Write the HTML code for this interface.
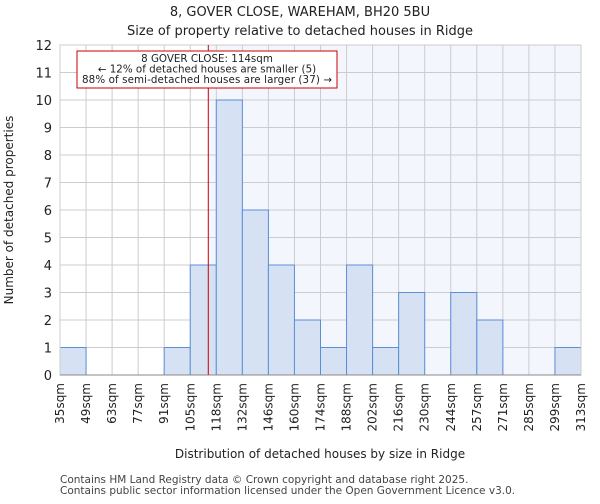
<!DOCTYPE html>
<html><head><meta charset="utf-8"><style>
body{margin:0;background:#fff;width:600px;height:500px;overflow:hidden;font-family:"DejaVu Sans","Liberation Sans",sans-serif}
text{font-family:"DejaVu Sans","Liberation Sans",sans-serif;fill:#222}
</style></head><body>
<svg id="chart" width="600" height="500" xmlns="http://www.w3.org/2000/svg">
<text x="300" y="16" text-anchor="middle" font-size="13">8, GOVER CLOSE, WAREHAM, BH20 5BU</text>
<text x="300" y="35" text-anchor="middle" font-size="13">Size of property relative to detached houses in Ridge</text>
<g id="grid"></g>
<g id="bars"></g>
<g id="axes"></g>
<text x="320" y="458" text-anchor="middle" font-size="12">Distribution of detached houses by size in Ridge</text>
<text transform="translate(13,210) rotate(-90)" text-anchor="middle" font-size="12">Number of detached properties</text>
<text x="60" y="483" font-size="10.5" style="fill:#444">Contains HM Land Registry data © Crown copyright and database right 2025.</text>
<text x="60" y="494" font-size="10.5" style="fill:#444">Contains public sector information licensed under the Open Government Licence v3.0.</text>
</svg>
<script>
const categories=["35sqm","49sqm","63sqm","77sqm","91sqm","105sqm","118sqm","132sqm","146sqm","160sqm","174sqm","188sqm","202sqm","216sqm","230sqm","244sqm","257sqm","271sqm","285sqm","299sqm","313sqm"];
const binEdges=[35,49,63,77,91,105,118,132,146,160,174,188,202,216,230,244,257,271,285,299,313];
const counts=[1,0,0,0,1,4,10,6,4,2,1,4,1,3,0,3,2,0,0,1];
const yTicks=[0,1,2,3,4,5,6,7,8,9,10,11,12];
const propertySize=114;
const NS="http://www.w3.org/2000/svg";
const L=60,R=581,T=45,B=375,yMax=12;
const bw=(R-L)/counts.length;
function xIdx(i){return L+i*bw;}
function xVal(v){let i=0;while(i<binEdges.length-2&&v>binEdges[i+1])i++;return xIdx(i)+bw*(v-binEdges[i])/(binEdges[i+1]-binEdges[i]);}
function y(v){return B-(B-T)*v/yMax;}
function mk(tag,attrs,parent){const e=document.createElementNS(NS,tag);for(const k in attrs)e.setAttribute(k,attrs[k]);parent.appendChild(e);return e;}
const grid=document.getElementById('grid'),bars=document.getElementById('bars'),axes=document.getElementById('axes');
const px=xVal(propertySize);
let bg=mk('rect',{x:px,y:T,width:R-px,height:B-T,fill:'#f3f6fd'},grid);


yTicks.forEach(t=>{
  let g=mk('line',{x1:L,x2:R,y1:y(t),y2:y(t),stroke:'#cccccc'},grid);
  
  
  let tx=mk('text',{x:L-8,y:y(t)+5,'text-anchor':'end','font-size':'13'},axes);tx.textContent=t;
  
  
});
categories.forEach((c,i)=>{
  let g=mk('line',{x1:xIdx(i),x2:xIdx(i),y1:T,y2:B,stroke:'#cccccc'},grid);
  
  
  let xx=xIdx(i);
  let tx=mk('text',{x:0,y:0,'text-anchor':'end','font-size':'12',transform:`translate(${xx+4},${B+8}) rotate(-90)`},axes);tx.textContent=c;
  
  
});
counts.forEach((v,i)=>{
  if(v<=0)return;
  let r=mk('rect',{x:xIdx(i),y:y(v),width:bw,height:B-y(v),fill:'#d6e1f3',stroke:'#5a8fd8','stroke-width':1},bars);
  
  
});
let fr=mk('rect',{x:L,y:T,width:R-L,height:B-T,fill:'none',stroke:'#cccccc'},axes);


let ax=mk('line',{x1:L,x2:R,y1:B,y2:B,stroke:'#888'},axes);


let ml=mk('line',{x1:px,x2:px,y1:T,y2:B,stroke:'#cc0000','stroke-width':1},axes);


let box=mk('rect',{x:77,y:51,width:260,height:37,fill:'#fff',stroke:'#cc0000'},axes);


const lines=["8 GOVER CLOSE: 114sqm","← 12% of detached houses are smaller (5)","88% of semi-detached houses are larger (37) →"];
lines.forEach((s,i)=>{let t=mk('text',{x:207,y:62+i*10.5,'text-anchor':'middle','font-size':'10.3',textLength:(i==2?250:null)},axes);if(i!=2)t.removeAttribute('textLength');t.textContent=s;

});
</script>
</body></html>
